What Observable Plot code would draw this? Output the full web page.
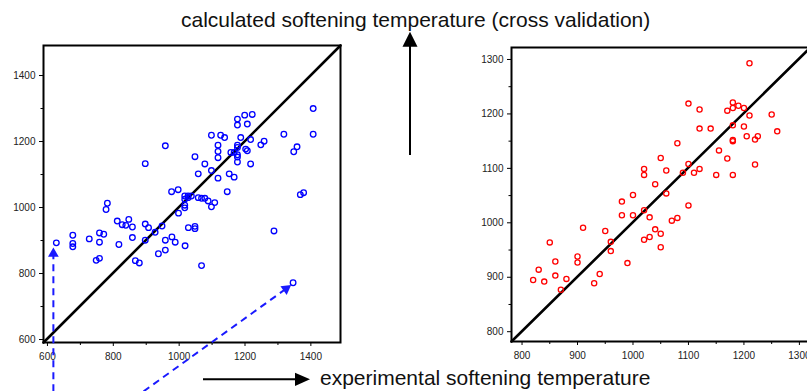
<!DOCTYPE html>
<html><head><meta charset="utf-8">
<script src="https://cdn.jsdelivr.net/npm/d3@7"></script>
<script src="https://cdn.jsdelivr.net/npm/@observablehq/plot@0.6"></script>
<style>
html,body{margin:0;padding:0;background:#fff;overflow:hidden;}
#wrap{position:relative;width:807px;height:391px;overflow:hidden;font-family:"Liberation Sans",Arial,sans-serif;}
#wrap > svg{position:absolute;}
</style></head><body><div id="wrap"></div>
<script>
// ---- data: left panel (blue) ----
const leftX = [627,677,677,677,727,758,771,758,748,758,778,782,817,812,827,838,847,858,858,867,879,897,907,897,927,948,937,958,958,978,988,1018,1028,1048,1048,998,958,1098,1126,1138,1177,1199,1222,1177,1207,1187,1217,1248,1258,1177,1177,1118,1118,1118,1048,1078,1098,1058,1118,1157,1167,1177,1177,1202,1207,1177,1217,1152,1167,1146,977,997,1017,1027,1037,1017,1027,1058,1068,1078,1088,1108,1017,1017,1098,1407,1407,1318,1358,1348,1368,1378,1288,1068,1346,897];
const leftY = [893,916,891,881,905,923,919,895,840,846,994,1013,888,959,948,946,964,941,909,839,832,950,939,901,925,944,860,871,901,911,895,884,939,943,936,983,1187,1219,1219,1212,1268,1280,1282,1250,1253,1212,1206,1190,1201,1189,1182,1189,1170,1151,1154,1132,1112,1102,1089,1167,1167,1160,1153,1177,1172,1138,1132,1102,1092,1048,1048,1054,1035,1035,1035,1025,1030,1030,1028,1028,1020,1015,1007,999,1002,1300,1222,1222,1184,1169,1039,1045,929,824,772,1133];
// ---- data: right panel (red) ----
const rightX = [820,830,840,850,860,860,870,880,900,900,910,930,940,950,960,960,990,980,980,1000,1000,1020,1030,1060,1100,1070,1080,1040,1050,1020,1030,1050,1210,1100,1120,1180,1190,1180,1170,1200,1210,1250,1260,1120,1140,1180,1200,1180,1180,1205,1220,1225,1080,1155,1170,1050,1100,1220,1020,1020,1060,1090,1110,1120,1150,1180,1040];
const rightY = [895,914,892,964,929,903,877,897,938,927,991,889,906,985,965,948,926,1039,1014,1051,1014,1023,1010,1054,1032,1004,1009,988,980,969,974,955,1293,1219,1208,1221,1215,1211,1206,1211,1197,1199,1168,1173,1173,1179,1177,1152,1150,1159,1153,1159,1146,1133,1118,1119,1108,1107,1099,1088,1096,1092,1092,1099,1088,1088,1071];
// ---- axes ----
const leftTicks = [600,800,1000,1200,1400];
const leftMinor = [700,900,1100,1300];
const rightTicks = [800,900,1000,1100,1200,1300];
const rightMinor = [850,950,1050,1150,1250];
const leftDomainX = [588,1490], leftDomainY = [591,1491];
const rightDomainX = [781,1320], rightDomainY = [782,1322];
// ---- annotation arrows (left panel data units) ----
const arrowFromX = [618,892], arrowFromY = [443,443];
const arrowToX = [618,1340], arrowToY = [879,765];
const titleText = "calculated softening temperature (cross validation)";
const xText = "experimental softening temperature";

const wrap = document.getElementById("wrap");

function panel(o) {
  const pts = o.xs.map((x, i) => ({x, y: o.ys[i]}));
  const iw = o.width - o.marginLeft - o.marginRight;
  const ih = o.height - o.marginTop - o.marginBottom;
  const kx = iw / (o.dx[1] - o.dx[0]), ky = ih / (o.dy[1] - o.dy[0]);
  const marks = [
    Plot.line([{x: o.dx[0], y: o.dy[0]}, {x: o.dx[1], y: o.dy[1]}], {x: "x", y: "y", stroke: "#000", strokeWidth: 2.6}),
    Plot.dot(pts, {x: "x", y: "y", r: o.r, stroke: o.color, strokeWidth: 1.3, fill: "none"}),
    Plot.frame({stroke: "#000", strokeWidth: 2}),
    Plot.axisX(o.major, {anchor: "bottom", tickSize: 4, tickPadding: 6, tickFormat: d => String(d), fill: "#222"}),
    Plot.axisX(o.minor, {anchor: "bottom", tickSize: 3, tickFormat: () => ""}),
    Plot.axisY(o.major, {anchor: "left", tickSize: 4, tickPadding: 4, tickFormat: d => String(d), fill: "#222"}),
    Plot.axisY(o.minor, {anchor: "left", tickSize: 2.5, tickFormat: () => ""})
  ];
  if (o.arrows) {
    const a = o.arrows;
    const heads = a.x1.map((x1, i) => {
      const x2 = a.x2[i], y1 = a.y1[i], y2 = a.y2[i];
      const vx = (x2 - x1) * kx, vy = -(y2 - y1) * ky;
      const L = Math.hypot(vx, vy), ux = vx / L, uy = vy / L;
      const off = 6.2;
      return {x1, y1, cx: x2 - off * ux / kx, cy: y2 + off * uy / ky,
              rot: Math.atan2(ux, -uy) * 180 / Math.PI};
    });
    marks.push(Plot.link(heads, {x1: "x1", y1: "y1", x2: "cx", y2: "cy", stroke: "#1a1aff", strokeWidth: 2, strokeDasharray: "7,5"}));
    marks.push(Plot.dot(heads, {x: "cx", y: "cy", symbol: "triangle", r: 4, fill: "#1a1aff", stroke: "none", rotate: "rot"}));
  }
  const svg = Plot.plot({
    width: o.width, height: o.height,
    marginLeft: o.marginLeft, marginRight: o.marginRight, marginTop: o.marginTop, marginBottom: o.marginBottom,
    style: {fontFamily: "Liberation Sans, Arial, sans-serif", fontSize: "10px", color: "#000", background: "transparent", overflow: "visible"},
    x: {domain: o.dx, label: null},
    y: {domain: o.dy, label: null},
    marks
  });
  svg.style.left = o.left + "px";
  svg.style.top = "0px";
  return svg;
}

wrap.appendChild(panel({
  xs: leftX, ys: leftY, color: "#0000ff", r: 2.8, dx: leftDomainX, dy: leftDomainY,
  major: leftTicks, minor: leftMinor,
  width: 350, height: 391, marginLeft: 43, marginRight: 10, marginTop: 45, marginBottom: 49, left: 0,
  arrows: {x1: arrowFromX, y1: arrowFromY, x2: arrowToX, y2: arrowToY}
}));
wrap.appendChild(panel({
  xs: rightX, ys: rightY, color: "#ff0000", r: 2.6, dx: rightDomainX, dy: rightDomainY,
  major: rightTicks, minor: rightMinor,
  width: 340, height: 391, marginLeft: 40, marginRight: 1, marginTop: 47, marginBottom: 50, left: 471
}));

// overlay: captions and direction arrows
const ov = d3.select(wrap).append("svg")
  .attr("width", 807).attr("height", 391)
  .style("left", "0px").style("top", "0px").style("pointer-events", "none");
ov.append("text").attr("x", 181).attr("y", 27)
  .attr("font-family", "Liberation Sans, Arial, sans-serif").attr("font-size", 21).attr("fill", "#111")
  .text(titleText);
ov.append("text").attr("x", 320).attr("y", 385)
  .attr("font-family", "Liberation Sans, Arial, sans-serif").attr("font-size", 21).attr("fill", "#111")
  .text(xText);
ov.append("line").attr("x1", 410).attr("x2", 410).attr("y1", 155).attr("y2", 44).attr("stroke", "#000").attr("stroke-width", 2);
ov.append("path").attr("d", "M402.5,46.7L410,31.7L417.5,46.7Z").attr("fill", "#000");
ov.append("line").attr("x1", 203).attr("x2", 298).attr("y1", 379.3).attr("y2", 379.3).attr("stroke", "#000").attr("stroke-width", 2);
ov.append("path").attr("d", "M295,372.7L310,379.3L295,386Z").attr("fill", "#000");
</script></body></html>
